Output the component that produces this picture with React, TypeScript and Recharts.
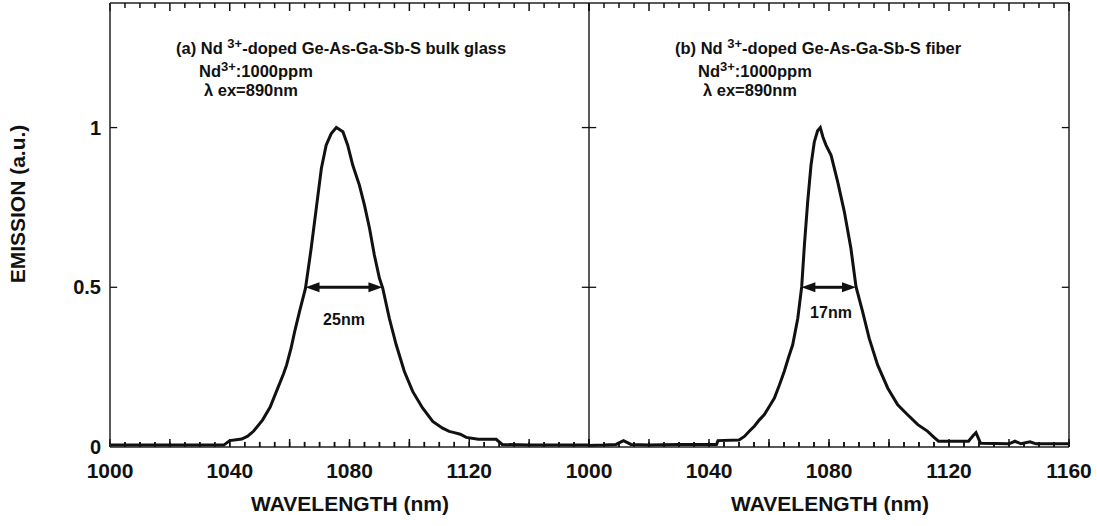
import React from 'react'
import { Line, LineChart, ReferenceLine, XAxis, YAxis } from 'recharts'

// (a) bulk glass spectrum
const bulkWavelength = [
  1000, 1020, 1038, 1040, 1044, 1046, 1048, 1051, 1053.5, 1055.6, 1058, 1059, 1060.5, 1061.7,
  1063.3, 1065.3, 1067.2, 1068.9, 1070.6, 1072.2, 1073.9, 1075.6, 1077.8, 1079.4, 1081.1,
  1083.3, 1085, 1086.7, 1088.3, 1090, 1091.1, 1093.3, 1095.6, 1098.3, 1101.1, 1104.4, 1107.8,
  1111.1, 1113.3, 1115, 1117, 1119, 1123, 1129, 1131, 1140, 1160,
]
const bulkEmission = [
  0.006, 0.006, 0.006, 0.02, 0.025, 0.034, 0.05, 0.085, 0.125, 0.174, 0.23, 0.257, 0.31, 0.362,
  0.424, 0.497, 0.622, 0.747, 0.872, 0.945, 0.981, 1.0, 0.987, 0.945, 0.882,
  0.82, 0.757, 0.684, 0.601, 0.528, 0.497, 0.403, 0.32, 0.237, 0.174, 0.122, 0.08,
  0.059, 0.049, 0.045, 0.04, 0.03, 0.024, 0.024, 0.008, 0.006, 0.006,
]

// (b) fiber spectrum
const fiberWavelength = [
  1000, 1005, 1009, 1011.5, 1014, 1020, 1030, 1042.5, 1043, 1050, 1051.8, 1053.5, 1055.1,
  1056.8, 1058.4, 1060, 1061.8, 1063.5, 1065.1, 1066.5, 1067.9, 1069.6, 1070.9, 1071.8, 1072.9,
  1074, 1075.1, 1076.2, 1077.1, 1078, 1079, 1080.7, 1082.9, 1085.1, 1087.3, 1089, 1091.2,
  1093.4, 1096.2, 1099.6, 1102.9, 1106.2, 1109.6, 1112.9, 1115, 1116.5, 1126.5, 1128, 1129,
  1130.5, 1140, 1142, 1144, 1147, 1149, 1160,
]
const fiberEmission = [
  0.005, 0.006, 0.008, 0.02, 0.008, 0.006, 0.008, 0.008, 0.02, 0.022, 0.033, 0.05, 0.065,
  0.085, 0.101, 0.125, 0.153, 0.195, 0.237, 0.28, 0.32, 0.403, 0.502, 0.632, 0.768,
  0.882, 0.955, 0.99, 1.0, 0.97, 0.945, 0.913, 0.83, 0.737, 0.622, 0.502, 0.424,
  0.34, 0.257, 0.184, 0.132, 0.101, 0.07, 0.049, 0.03, 0.018, 0.018, 0.035, 0.045,
  0.012, 0.01, 0.018, 0.01, 0.016, 0.01, 0.01,
]

const minorTicks = [
  1000, 1005, 1010, 1015, 1020, 1025, 1030, 1035, 1040, 1045, 1050, 1055, 1060, 1065, 1070,
  1075, 1080, 1085, 1090, 1095, 1100, 1105, 1110, 1115, 1120, 1125, 1130, 1135, 1140, 1145,
  1150, 1155, 1160,
]
const bulkTickLabels = [1000, 1040, 1080, 1120]
const fiberTickLabels = [1000, 1040, 1080, 1120, 1160]
const yTicks = [0, 0.5, 1]
const bulkFwhm = [1065.3, 1091]
const fiberFwhm = [1070.8, 1089]

const FONT = '"Liberation Sans", Arial, Helvetica, sans-serif'
const INK = '#111'
const FRAME = '#222'
const TOP = 3
const Y_MAX = 1.39
const X_MIN = 1000
const X_MAX = 1160
const X_TICK_SIZE = -5
// inward tick lengths, in data units (about 8px / 5px tall, 7px wide)
const MAJOR_LEN = 0.025
const MINOR_LEN = 0.016
const Y_TICK_LEN = 2.4
const NUDGE = 0.02

const XTick = (props: any) => {
  const { x, y, payload, labels } = props
  const v = payload.value
  if (!labels.includes(v)) return <g />
  return (
    <text x={x} y={y - X_TICK_SIZE + 31} textAnchor="middle" fontFamily={FONT} fontWeight="bold" fontSize={21} fill={INK}>
      {v}
    </text>
  )
}

const YTick = (props: any) => {
  const { x, y, payload, showLabel } = props
  if (!showLabel) return <g />
  return (
    <text x={x - 9} y={y + 7} textAnchor="end" fontFamily={FONT} fontWeight="bold" fontSize={20} fill={INK}>
      {payload.value}
    </text>
  )
}

const ArrowShape = (props: any) => {
  const { x1, x2, y1 } = props
  const a = Math.min(x1, x2)
  const b = Math.max(x1, x2)
  const head = 14
  return (
    <g>
      <line x1={a + head - 2} x2={b - head + 2} y1={y1} y2={y1} stroke={INK} strokeWidth={3} />
      <polygon points={`${a},${y1} ${a + head},${y1 - 5} ${a + head},${y1 + 5}`} fill={INK} />
      <polygon points={`${b},${y1} ${b - head},${y1 - 5} ${b - head},${y1 + 5}`} fill={INK} />
    </g>
  )
}

const TickShape = (props: any) => {
  const { x1, x2, y1, y2 } = props
  const x = (x1 + x2) / 2
  return <path d={`M${x},${y1}L${x},${y2}`} stroke={INK} strokeWidth={1.5} fill="none" />
}

const toRows = (w: number[], e: number[]) => w.map((wl, i) => ({ wavelength: wl, emission: e[i] }))

type PanelProps = {
  data: { wavelength: number; emission: number }[]
  labels: number[]
  fwhm: number[]
  width: number
  margin: { top: number; right: number; bottom: number; left: number }
  yWidth: number
  showYLabels: boolean
}

const Panel = ({ data, labels, fwhm, width, margin, yWidth, showYLabels }: PanelProps) => (
  <LineChart width={width} height={526} data={data} margin={margin}>
    <XAxis
      dataKey="wavelength"
      type="number"
      domain={[X_MIN, X_MAX]}
      ticks={minorTicks}
      interval={0}
      tickSize={X_TICK_SIZE}
      tickMargin={0}
      axisLine={{ stroke: FRAME, strokeWidth: 1.5 }}
      tickLine={{ stroke: INK, strokeWidth: 1.5 }}
      height={79}
      tick={<XTick labels={labels} />}
    />
    <YAxis
      type="number"
      domain={[0, Y_MAX]}
      ticks={yTicks}
      interval={0}
      tickSize={0}
      tickMargin={0}
      axisLine={{ stroke: FRAME, strokeWidth: 1.5 }}
      tickLine={false}
      width={yWidth}
      tick={<YTick showLabel={showYLabels} />}
    />
    <ReferenceLine y={Y_MAX} stroke={FRAME} strokeWidth={1.5} ifOverflow="visible" />
    <ReferenceLine x={X_MAX} stroke={FRAME} strokeWidth={1.5} ifOverflow="visible" />
    {minorTicks.map((t) => {
      const len = t % 20 === 0 ? MAJOR_LEN : MINOR_LEN
      return (
        <React.Fragment key={`xt${t}`}>
          <ReferenceLine
            segment={[{ x: t - NUDGE, y: 0 }, { x: t + NUDGE, y: len }]}
            shape={TickShape}
            ifOverflow="visible"
          />
          <ReferenceLine
            segment={[{ x: t - NUDGE, y: Y_MAX }, { x: t + NUDGE, y: Y_MAX - len }]}
            shape={TickShape}
            ifOverflow="visible"
          />
        </React.Fragment>
      )
    })}
    {yTicks
      .filter((v) => v > 0)
      .map((v) => (
        <React.Fragment key={`yt${v}`}>
          <ReferenceLine
            segment={[{ x: X_MIN, y: v }, { x: X_MIN + Y_TICK_LEN, y: v }]}
            stroke={INK}
            strokeWidth={1.3}
            ifOverflow="visible"
          />
          <ReferenceLine
            segment={[{ x: X_MAX, y: v }, { x: X_MAX - Y_TICK_LEN, y: v }]}
            stroke={INK}
            strokeWidth={1.3}
            ifOverflow="visible"
          />
        </React.Fragment>
      ))}
    <Line
      type="linear"
      dataKey="emission"
      stroke={INK}
      strokeWidth={3}
      dot={false}
      isAnimationActive={false}
    />
    <ReferenceLine
      segment={[
        { x: fwhm[0], y: 0.5 },
        { x: fwhm[1], y: 0.5 },
      ]}
      shape={ArrowShape}
      ifOverflow="visible"
    />
  </LineChart>
)

const txt: React.CSSProperties = {
  position: 'absolute',
  fontFamily: FONT,
  fontWeight: 'bold',
  color: INK,
  whiteSpace: 'nowrap',
  lineHeight: 1,
}
const sup: React.CSSProperties = { fontSize: 13, position: 'relative', top: -6 }

const Notes = ({ left, title }: { left: number; title: string }) => (
  <>
    <div style={{ ...txt, left, top: 40, fontSize: 16.5 }}>
      {title.split('|')[0]} <span style={sup}>3+</span>
      {title.split('|')[1]}
    </div>
    <div style={{ ...txt, left: left + 23, top: 63, fontSize: 16.5 }}>
      Nd<span style={sup}>3+</span>:1000ppm
    </div>
    <div style={{ ...txt, left: left + 28, top: 82, fontSize: 16.5 }}>λ ex=890nm</div>
  </>
)

export default function App() {
  return (
    <div style={{ position: 'absolute', left: 0, top: 0, width: 1097, height: 526, background: '#fff' }}>
      <div style={{ position: 'absolute', left: 0, top: 0 }}>
        <Panel
          data={toRows(bulkWavelength, bulkEmission)}
          labels={bulkTickLabels}
          fwhm={bulkFwhm}
          width={600}
          margin={{ top: TOP, right: 11, bottom: 0, left: 0 }}
          yWidth={110}
          showYLabels
        />
      </div>
      <div style={{ position: 'absolute', left: 560, top: 0 }}>
        <Panel
          data={toRows(fiberWavelength, fiberEmission)}
          labels={fiberTickLabels}
          fwhm={fiberFwhm}
          width={537}
          margin={{ top: TOP, right: 28, bottom: 0, left: 29 }}
          yWidth={0}
          showYLabels={false}
        />
      </div>
      <Notes left={176} title="(a) Nd|-doped Ge-As-Ga-Sb-S bulk glass" />
      <Notes left={675} title="(b) Nd|-doped Ge-As-Ga-Sb-S fiber" />
      <div style={{ ...txt, left: 344, top: 320, fontSize: 16, transform: 'translate(-50%, -50%)' }}>25nm</div>
      <div style={{ ...txt, left: 831, top: 313, fontSize: 16, transform: 'translate(-50%, -50%)' }}>17nm</div>
      <div
        style={{
          ...txt,
          left: 17,
          top: 204,
          fontSize: 21,
          transform: 'translate(-50%, -50%) rotate(-90deg)',
        }}
      >
        EMISSION (a.u.)
      </div>
      <div style={{ ...txt, left: 350, top: 503, fontSize: 21, transform: 'translate(-50%, -50%)' }}>
        WAVELENGTH (nm)
      </div>
      <div style={{ ...txt, left: 830, top: 503, fontSize: 21, transform: 'translate(-50%, -50%)' }}>
        WAVELENGTH (nm)
      </div>
    </div>
  )
}
